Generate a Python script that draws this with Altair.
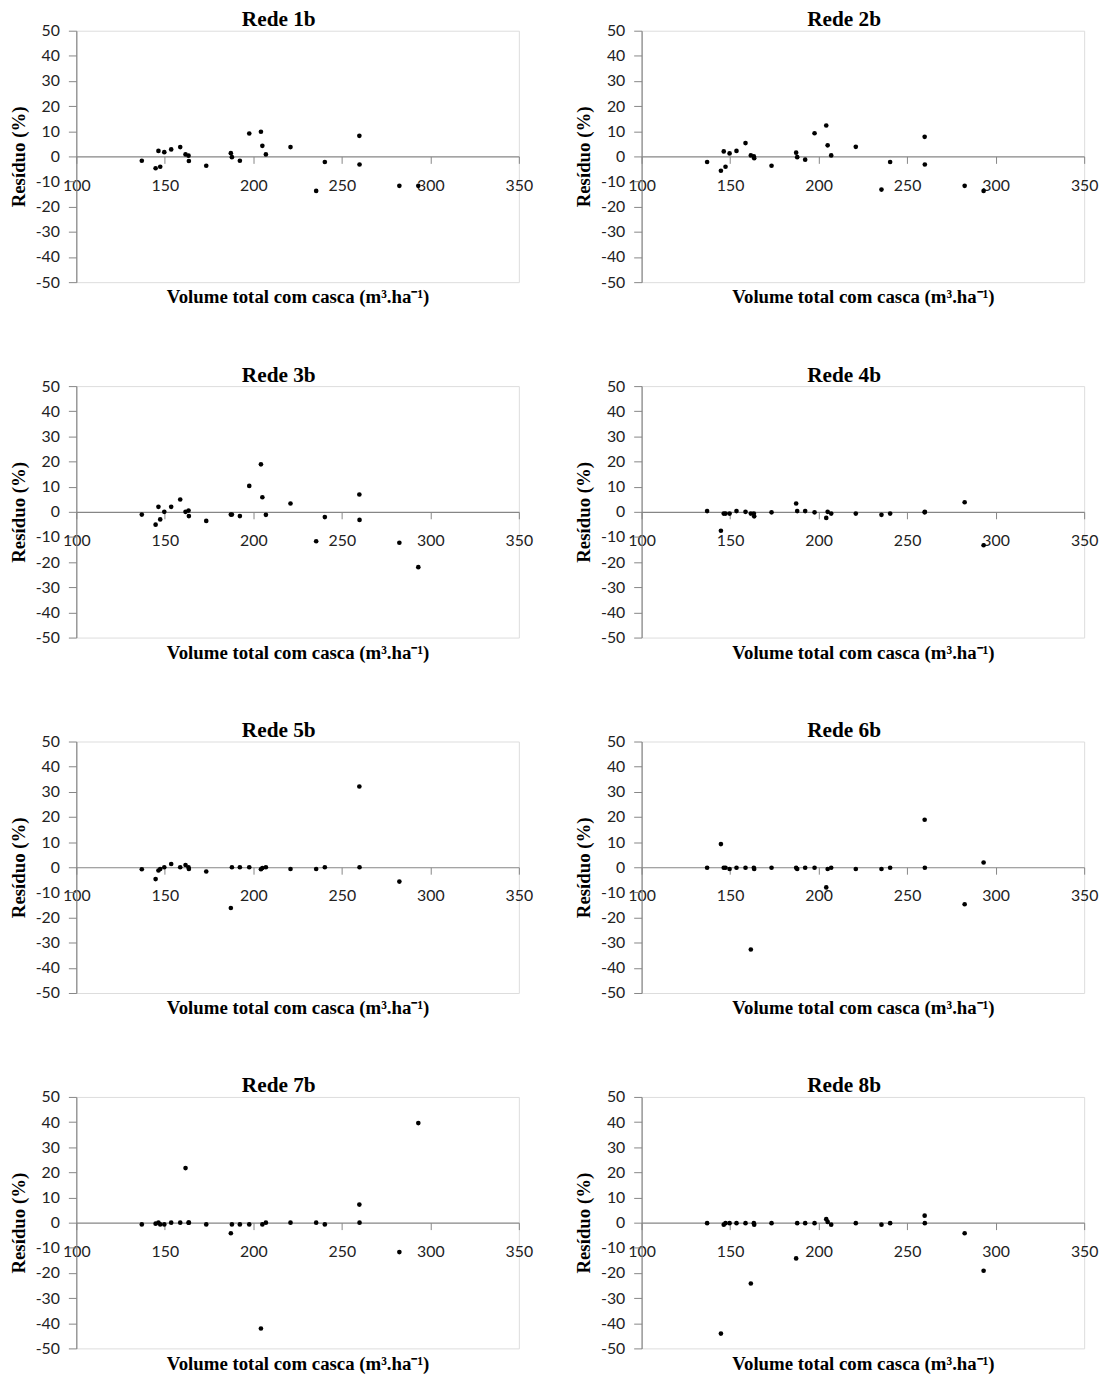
import altair as alt
import pandas as pd

# Common x values (Volume total com casca, m3/ha)
X_VOL = [137.0, 144.8, 146.4, 147.4, 149.7, 153.6, 158.7, 161.7, 163.4, 163.6,
         173.4, 187.3, 187.9, 192.4, 197.7, 204.3, 205.1, 207.1, 221.0, 235.5,
         240.4, 259.9, 260.0, 282.5, 293.2]

RES_1 = [-1.7, -4.7, 2.2, -4.1, 1.7, 2.8, 3.7, 0.8, 0.3, -1.8,
         -3.7, 1.3, -0.3, -1.7, 9.1, 9.8, 4.2, 0.8, 3.7, -13.7,
         -2.2, 8.2, -3.2, -11.7, -11.7]
RES_2 = [-2.2, -5.7, 2.0, -4.1, 1.2, 2.2, 5.3, 0.4, 0.0, -0.7,
         -3.7, 1.5, -0.3, -1.3, 9.2, 12.3, 4.4, 0.4, 3.8, -13.2,
         -2.2, 7.8, -3.2, -11.7, -13.7]
RES_3 = [-1.1, -5.1, 2.0, -3.0, 0.0, 2.0, 4.9, 0.0, 0.5, -1.7,
         -3.6, -1.1, -1.1, -1.7, 10.3, 18.9, 5.8, -1.2, 3.3, -11.7,
         -2.1, 6.9, -3.2, -12.3, -22.0]
RES_4 = [0.3, -7.5, -0.7, -0.7, -0.7, 0.3, 0.0, -0.7, -0.7, -1.8,
         -0.2, 3.3, 0.3, 0.3, -0.2, -2.4, 0.0, -0.7, -0.7, -1.2,
         -0.7, -0.2, 0.0, 3.8, -13.3]
RES_5 = [-0.8, -4.7, -1.3, -0.7, 0.0, 1.3, 0.0, 0.9, 0.0, -0.7,
         -1.7, -16.2, 0.0, 0.0, 0.0, -0.8, -0.3, 0.0, -0.7, -0.7,
         0.0, 32.1, 0.0, -5.7, None]
RES_6 = [-0.2, 9.2, -0.2, -0.2, -0.7, -0.2, -0.2, -32.7, -0.2, -0.7,
         -0.2, -0.2, -0.7, -0.2, -0.2, -8.0, -0.7, -0.2, -0.7, -0.7,
         -0.2, 18.9, -0.2, -14.7, 1.9]
RES_7 = [-0.7, -0.4, 0.0, -0.7, -0.7, 0.0, 0.0, 21.7, 0.0, 0.0,
         -0.7, -4.2, -0.7, -0.7, -0.7, -42.1, -0.7, 0.0, 0.0, 0.0,
         -0.7, 7.2, 0.0, -11.7, 39.6]
RES_8 = [-0.2, -44.1, -0.8, -0.2, -0.2, -0.2, -0.2, -24.2, -0.2, -0.8,
         -0.2, -14.2, -0.2, -0.2, -0.2, 1.4, 0.3, -0.8, -0.2, -0.8,
         -0.2, 2.8, -0.2, -4.2, -19.1]

PANEL_TITLES = ["Rede 1b", "Rede 2b", "Rede 3b", "Rede 4b",
                "Rede 5b", "Rede 6b", "Rede 7b", "Rede 8b"]
RESIDUALS = [RES_1, RES_2, RES_3, RES_4, RES_5, RES_6, RES_7, RES_8]

X_TICKS = [100, 150, 200, 250, 300, 350]
Y_TICKS = [-50, -40, -30, -20, -10, 0, 10, 20, 30, 40, 50]
X_TITLE = "Volume total com casca (m³.ha⁻¹)"
Y_TITLE = "Resíduo (%)"

W = 447
H = 254
SERIF = "Liberation Serif"
SANS = "Lato"


def panel(name, res):
    df = pd.DataFrame({"vol": X_VOL, "res": res}).dropna()
    return alt.Chart(df).mark_circle(size=22, color="black", opacity=1).encode(
        x=alt.X("vol:Q",
                scale=alt.Scale(domain=[100, 350], nice=False, zero=False),
                axis=alt.Axis(values=X_TICKS, offset=-H / 2, title=X_TITLE,
                              titleY=H / 2 + 6, titleFont=SERIF, titleFontSize=19,
                              titleFontWeight="bold", titleColor="black",
                              labelFont=SANS, labelFontSize=16, labelColor="#222",
                              labelExpr="'' + datum.value",
                              labelFlush=False, labelOverlap=False, labelBound=False,
                              labelPadding=14, tickSize=7, tickColor="#868686",
                              domainColor="#868686", domainWidth=1.2, grid=False)),
        y=alt.Y("res:Q",
                scale=alt.Scale(domain=[-50, 50], nice=False),
                axis=alt.Axis(values=Y_TICKS, title=Y_TITLE, titleFont=SERIF,
                              titleFontSize=19, titleFontWeight="bold",
                              titleColor="black", titlePadding=7,
                              labelFont=SANS, labelFontSize=16, labelColor="#222",
                              labelExpr="'' + datum.value",
                              labelPadding=9, tickSize=8, tickColor="#868686",
                              domainColor="#868686", domainWidth=1.2, grid=False,
                              labelFlush=False)),
    ).properties(
        width=W, height=H,
        title=alt.TitleParams(name, font=SERIF, fontSize=21.5, fontWeight="bold",
                              color="black", anchor="middle", dx=-19, offset=-8),
    )


charts = [panel(n, r) for n, r in zip(PANEL_TITLES, RESIDUALS)]
rows = [alt.hconcat(charts[i], charts[i + 1], spacing=40) for i in range(0, 8, 2)]

chart = alt.vconcat(*rows, spacing=57).properties(
    padding={"left": 0, "top": -6, "right": 0, "bottom": 0}
).configure_view(stroke="#3a3a3a", strokeWidth=1.5).configure(background="white")

chart.save("out.html", embed_options={"renderer": "svg", "actions": False})
